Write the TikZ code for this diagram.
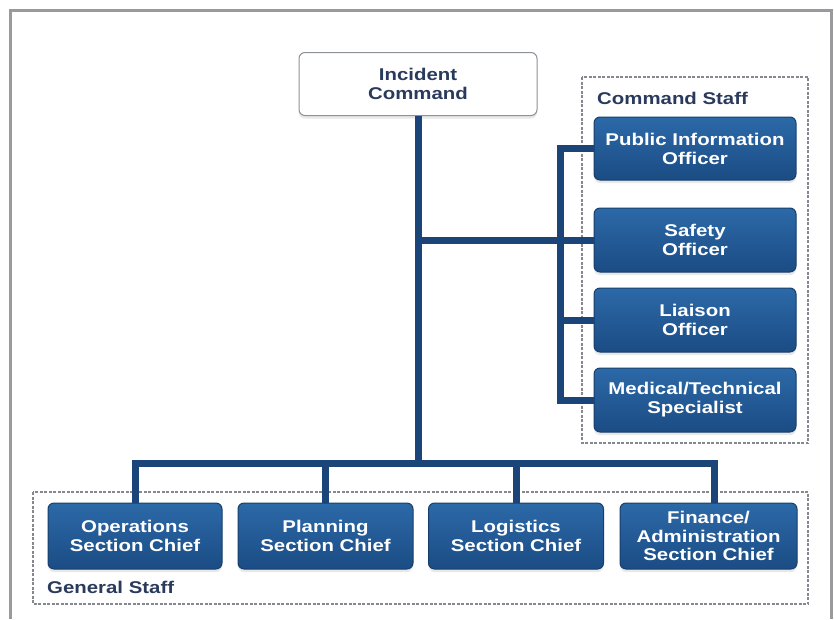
\documentclass[tikz,border=0pt]{standalone}
\usepackage{fontspec}
\setmainfont{Liberation Sans}[FakeStretch=1.2]
\usetikzlibrary{shadows}
\definecolor{boxtop}{HTML}{2C69A8}
\definecolor{boxbot}{HTML}{1B4C84}
\definecolor{boxedge}{HTML}{173E6B}
\definecolor{linkblue}{HTML}{1B4478}
\definecolor{labelnavy}{HTML}{2A3A5C}
\definecolor{icedge}{HTML}{8C919A}
\definecolor{staffgray}{HTML}{85888E}
\definecolor{framegray}{HTML}{9A9A9E}

\begin{document}
\begin{tikzpicture}[x=1pt,y=-1pt]
    \tikzstyle{every node}+=[inner sep=0pt, font=\fontsize{17}{19}\selectfont\bfseries]
    \tikzstyle{post}=[draw=boxedge, line width=1pt, rounded corners=6pt, top color=boxtop, bottom color=boxbot, text=white, align=center, drop shadow={opacity=0.18, shadow xshift=0pt, shadow yshift=-3pt}]
    \tikzstyle{chief}=[post, draw=icedge, top color=white, bottom color=white, text=labelnavy]
    \tikzstyle{link}=[linkblue, line width=7pt]
    \tikzstyle{staff}=[staffgray, line width=1.5pt, dash pattern=on 3pt off 1.5pt]
    \tikzstyle{tag}=[text=labelnavy, anchor=west]
    \useasboundingbox[fill=white] (0,0) rectangle (834,619);
    \draw [framegray, line width=3pt] (10.5,619) -- (10.5,10.5) -- (831.5,10.5) -- (831.5,619);
    \draw [staff] (582,77) rectangle (808,443);
    \draw [staff] (33,492) rectangle (808,604);
    \node [tag] (cstag) at (597,98) {Command Staff};
    \node [tag] (gstag) at (47,587) {General Staff};
    \node [chief, minimum width=238, minimum height=63] (ic) at (418,84) {Incident\\Command};
    \node [post, minimum width=202, minimum height=63] (pio) at (695,148.5) {Public Information\\Officer};
    \node [post, minimum width=202, minimum height=64] (safety) at (695,240) {Safety\\Officer};
    \node [post, minimum width=202, minimum height=64] (liaison) at (695,320) {Liaison\\Officer};
    \node [post, minimum width=202, minimum height=64] (medical) at (695,400) {Medical/Technical\\Specialist};
    \node [post, minimum width=174, minimum height=66] (ops) at (135,536) {Operations\\Section Chief};
    \node [post, minimum width=175, minimum height=66] (plan) at (325.5,536) {Planning\\Section Chief};
    \node [post, minimum width=175, minimum height=66] (log) at (516,536) {Logistics\\Section Chief};
    \node [post, minimum width=177, minimum height=66, font=\fontsize{17}{18.5}\selectfont\bfseries] (fin) at (708.5,536) {Finance/\\Administration\\Section Chief};
    \coordinate (bar) at (418,463);
    \draw [link] (ic.south) -- (bar);
    \draw [link] (ops.north) |- (bar) -| ([xshift=6pt]fin.north);
    \draw [link] (plan.north) -- (plan.north |- bar);
    \draw [link] (log.north) -- (log.north |- bar);
    \draw [link] (safety.west) -- (safety.west -| bar);
    \draw [link] (pio.west) -- ++(-33,0) |- (medical.west);
    \draw [link] (liaison.west) -- ++(-33,0);
\end{tikzpicture}
\end{document}
